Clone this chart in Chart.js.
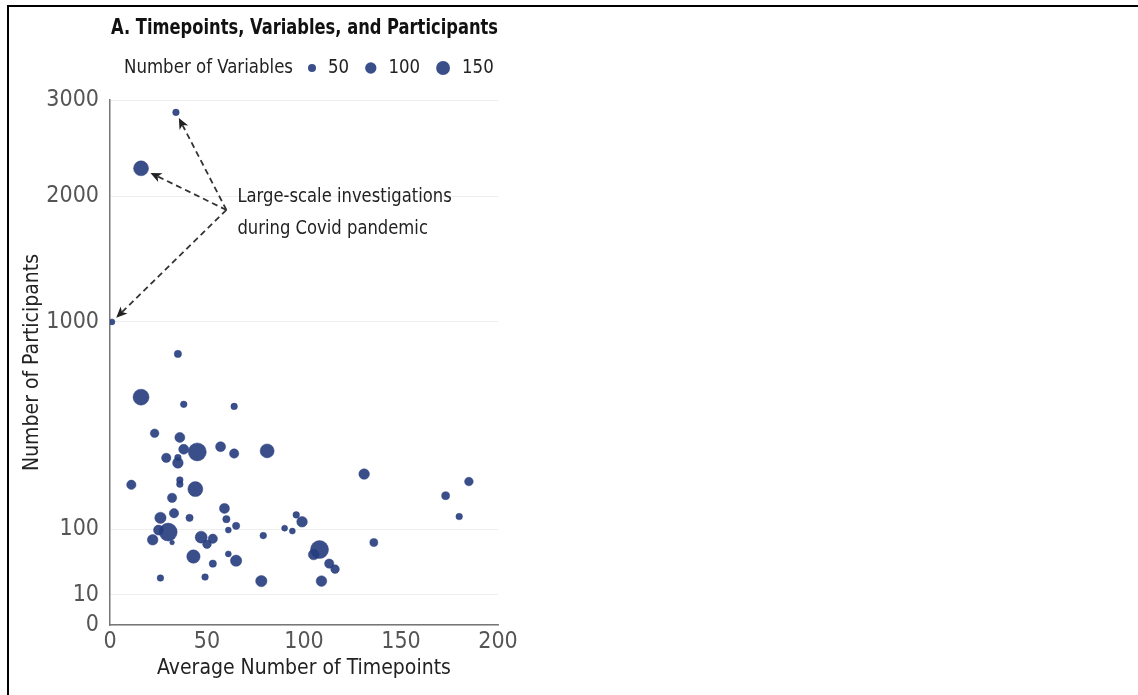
<!DOCTYPE html>
<html>
<head>
<meta charset="utf-8">
<script src="https://cdn.jsdelivr.net/npm/chart.js@4/dist/chart.umd.min.js"></script>
<style>
  html, body { margin: 0; padding: 0; background: #fff; }
  #frame { position: absolute; left: 7px; top: 5px; width: 1131px; height: 690px;
           border-top: 2px solid #000; border-left: 2px solid #000; }
  #wrap { position: absolute; left: 0; top: 0; width: 1138px; height: 695px; }
</style>
</head>
<body>
<div id="frame"></div>
<div id="wrap"><canvas id="c"></canvas></div>
<script>
const FONT = "'DejaVu Sans Condensed', 'DejaVu Sans', sans-serif";

// one entry per study
const timepoints   = [34, 16, 1, 35, 16, 38, 64, 23, 36, 38, 45, 57, 64, 81, 29, 35, 35, 11, 36, 36,
                      44, 32, 33, 26, 41, 59, 60, 65, 61, 25, 30, 22, 32, 47, 53, 50, 61, 65, 43, 53,
                      26, 49, 78, 90, 94, 96, 79, 131, 173, 185, 180, 99, 136, 108, 105, 113, 116, 109];
const participants = [2860, 2270, 1000, 800, 565, 530, 520, 400, 383, 336, 326, 346, 320, 330, 304, 305, 286, 214, 229, 216,
                      201, 176, 136, 125, 125, 148, 122, 107, 98, 98, 94, 79, 74, 84, 81, 71, 55, 45, 51, 41,
                      24, 25, 21, 102, 96, 132, 87, 248, 182, 224, 128, 116, 74, 62, 54, 41, 34, 21];
const variables    = [34, 175, 28, 42, 200, 34, 34, 58, 78, 78, 253, 78, 68, 153, 68, 34, 88, 68, 34, 34,
                      175, 68, 68, 100, 42, 78, 42, 42, 28, 78, 253, 88, 17, 112, 68, 58, 28, 100, 140, 42,
                      34, 34, 100, 28, 28, 34, 34, 88, 50, 58, 34, 88, 50, 253, 88, 68, 58, 88];

const yTicks = [0, 10, 100, 1000, 2000, 3000];
const legendSizes = [50, 100, 150];
const calloutTargets = [0, 1, 2];          // the three Covid-era studies
const calloutOrigin = { x: 60, y: 1875 };
const calloutText = ['Large-scale investigations', 'during Covid pandemic'];

const DOT = 'rgba(37, 60, 125, 0.9)';
const rOf = v => 0.566 * Math.sqrt(v);   // bubble area ~ number of variables

const points = timepoints.map((t, i) => ({ x: t, y: Math.sqrt(participants[i]), r: rOf(variables[i]) }));

// the original uses a narrow typeface; squeeze text horizontally to match
function narrowText(ctx, text, x, y, sx) {
  ctx.save();
  ctx.translate(x, y);
  ctx.scale(sx, 1);
  ctx.fillText(text, 0, 0);
  ctx.restore();
  return ctx.measureText(text).width * sx;
}

function arrow(ctx, x0, y0, x1, y1) {
  const a = Math.atan2(y1 - y0, x1 - x0);
  ctx.save();
  ctx.strokeStyle = '#333';
  ctx.lineWidth = 1.8;
  ctx.setLineDash([6, 4]);
  ctx.beginPath();
  ctx.moveTo(x0, y0);
  ctx.lineTo(x1 - 8 * Math.cos(a), y1 - 8 * Math.sin(a));
  ctx.stroke();
  ctx.setLineDash([]);
  ctx.fillStyle = '#222';
  ctx.beginPath();
  ctx.moveTo(x1, y1);
  ctx.lineTo(x1 - 12 * Math.cos(a - 0.42), y1 - 12 * Math.sin(a - 0.42));
  ctx.lineTo(x1 - 8 * Math.cos(a), y1 - 8 * Math.sin(a));
  ctx.lineTo(x1 - 12 * Math.cos(a + 0.42), y1 - 12 * Math.sin(a + 0.42));
  ctx.closePath();
  ctx.fill();
  ctx.restore();
}

const extras = {
  id: 'extras',
  afterDatasetsDraw(chart) {
    const { ctx, scales: { x, y } } = chart;
    const ox = x.getPixelForValue(calloutOrigin.x);
    const oy = y.getPixelForValue(Math.sqrt(calloutOrigin.y));
    calloutTargets.forEach(i => {
      const tx = x.getPixelForValue(timepoints[i]);
      const ty = y.getPixelForValue(Math.sqrt(participants[i]));
      const d = Math.hypot(tx - ox, ty - oy);
      const gap = rOf(variables[i]) + 3;
      arrow(ctx, ox, oy, tx + (ox - tx) * gap / d, ty + (oy - ty) * gap / d);
    });
    ctx.save();
    ctx.fillStyle = '#222';
    ctx.font = '19px ' + FONT;
    ctx.textBaseline = 'middle';
    narrowText(ctx, calloutText[0], ox + 11, oy - 13, 0.96);
    narrowText(ctx, calloutText[1], ox + 11, oy + 19, 0.96);
    ctx.restore();
  },
  afterDraw(chart) {
    const ctx = chart.ctx;
    ctx.save();
    ctx.fillStyle = '#111';
    ctx.textBaseline = 'middle';
    ctx.font = 'bold 21px ' + FONT;
    const title = 'A. Timepoints, Variables, and Participants';
    narrowText(ctx, title, 111, 29, 387 / ctx.measureText(title).width);

    ctx.font = '20px ' + FONT;
    ctx.fillStyle = '#222';
    const sx = 169 / ctx.measureText('Number of Variables').width;
    let px = 124;
    px += narrowText(ctx, 'Number of Variables', px, 68, sx) + 15;
    legendSizes.forEach(v => {
      const r = rOf(v);
      ctx.fillStyle = DOT;
      ctx.beginPath();
      ctx.arc(px + r, 68, r, 0, Math.PI * 2);
      ctx.fill();
      px += 2 * r + 12;
      ctx.fillStyle = '#222';
      px += narrowText(ctx, String(v), px, 68, sx) + 16;
    });
    ctx.restore();
  }
};

new Chart(document.getElementById('c'), {
  type: 'bubble',
  data: {
    datasets: [{
      data: points,
      backgroundColor: DOT,
      borderColor: DOT,
      borderWidth: 0.5
    }]
  },
  options: {
    responsive: true,
    maintainAspectRatio: false,
    animation: false,
    layout: { padding: { top: 100, right: 640, left: 0, bottom: 0 } },
    plugins: { legend: { display: false }, tooltip: { enabled: false } },
    scales: {
      x: {
        min: 0, max: 200,
        ticks: { stepSize: 50, color: '#555', padding: 3, font: { family: FONT, size: 23 } },
        grid: { display: false, drawTicks: false },
        border: { color: '#777', width: 1.5 },
        title: { display: true, text: 'Average Number of Timepoints', color: '#222',
                 font: { family: FONT, size: 21 }, padding: { top: 0, bottom: 14 } },
        afterFit(s) { s.height = 70; }
      },
      y: {
        min: 0, max: Math.sqrt(3000),
        afterBuildTicks(s) { s.ticks = yTicks.map(v => ({ value: Math.sqrt(v) })); },
        ticks: { color: '#555', padding: 11, font: { family: FONT, size: 23 },
                 callback: v => String(Math.round(v * v)) },
        grid: { color: '#eeeeee', drawTicks: false },
        border: { color: '#777', width: 1.5 },
        title: { display: true, text: 'Number of Participants', color: '#222',
                 font: { family: FONT, size: 21 }, padding: { top: 20, bottom: 0 } },
        afterFit(s) { s.width = 110; }
      }
    }
  },
  plugins: [extras]
});
</script>
</body>
</html>
